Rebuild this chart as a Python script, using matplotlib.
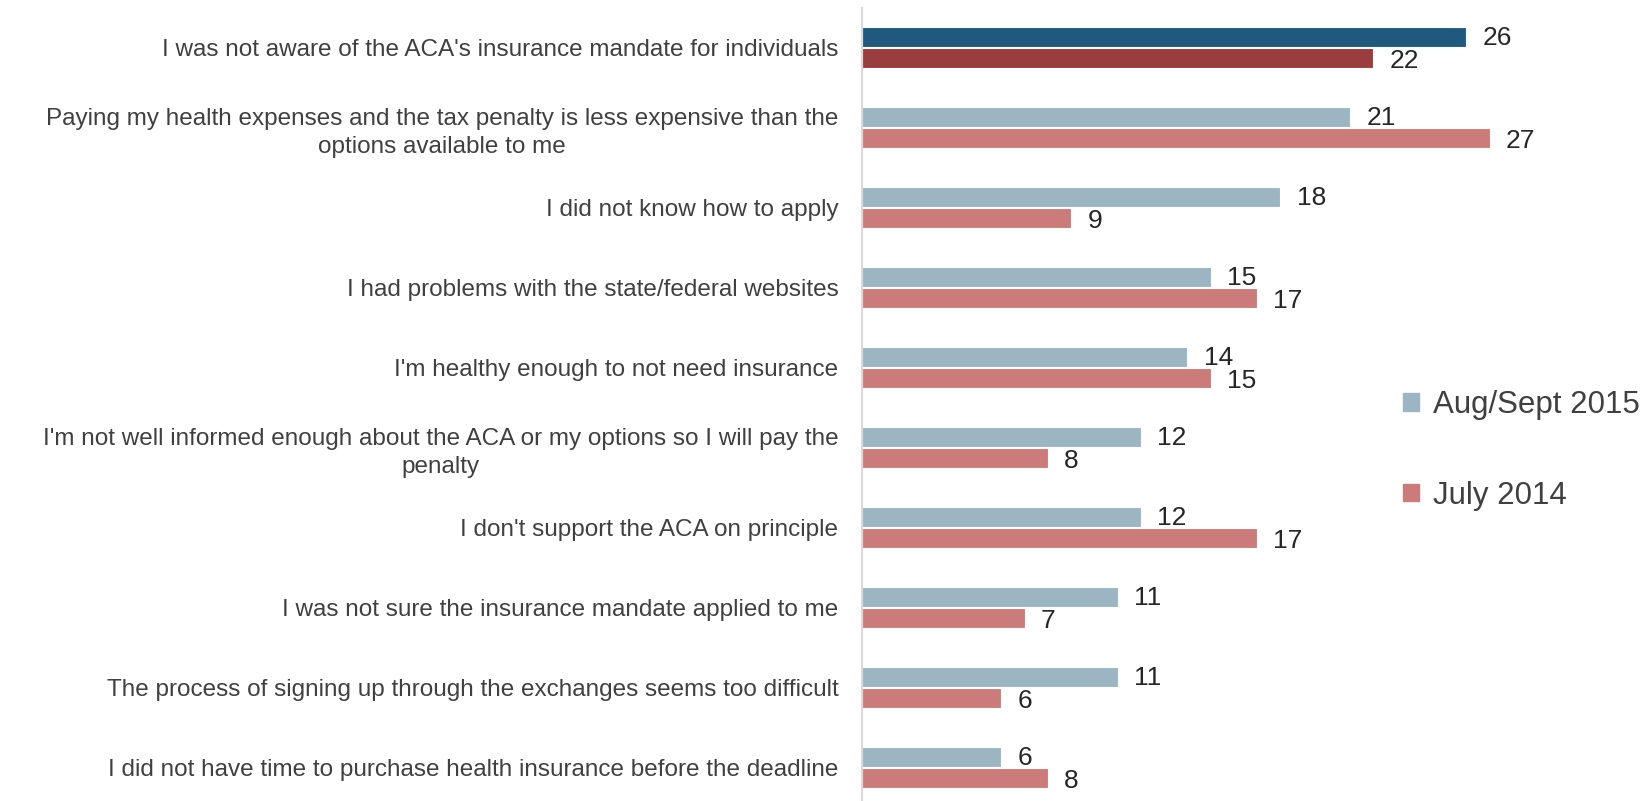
import matplotlib

matplotlib.use("Agg")
import matplotlib.pyplot as plt
import numpy as np
from matplotlib.patches import Patch

REASONS = [
    "I was not aware of the ACA's insurance mandate for individuals",
    "Paying my health expenses and the tax penalty is less expensive than the\noptions available to me",
    "I did not know how to apply",
    "I had problems with the state/federal websites",
    "I'm healthy enough to not need insurance",
    "I'm not well informed enough about the ACA or my options so I will pay the\npenalty",
    "I don't support the ACA on principle",
    "I was not sure the insurance mandate applied to me",
    "The process of signing up through the exchanges seems too difficult",
    "I did not have time to purchase health insurance before the deadline",
]
AUG_SEPT_2015 = [26, 21, 18, 15, 14, 12, 12, 11, 11, 6]
JULY_2014 = [22, 27, 9, 17, 15, 8, 17, 7, 6, 8]
SERIES_NAMES = ["Aug/Sept 2015", "July 2014"]

COLORS = {
    "blue": "#9BB5C3",
    "red": "#CC7B7B",
    "blue_hi": "#1F5A7E",
    "red_hi": "#9A3D3E",
    "text": "#404040",
    "value": "#262626",
    "axis": "#D9D9D9",
}
TEXT_FONT = ["Liberation Sans", "DejaVu Sans"]

fig = plt.figure(figsize=(16.45, 8.01), dpi=100)
ax = fig.add_axes([0.524, 0.0, 0.424, 0.99])

y = np.arange(len(REASONS))
h = 0.25
# the first reason is highlighted with darker shades
blue = [COLORS["blue_hi"]] + [COLORS["blue"]] * (len(REASONS) - 1)
red = [COLORS["red_hi"]] + [COLORS["red"]] * (len(REASONS) - 1)
ax.barh(y - h / 2 - 0.006, AUG_SEPT_2015, height=h, color=blue, edgecolor="white", linewidth=0.8)
ax.barh(y + h / 2 + 0.006, JULY_2014, height=h, color=red, edgecolor="white", linewidth=0.8)

for i, (a, b) in enumerate(zip(AUG_SEPT_2015, JULY_2014)):
    ax.text(a + 0.7, i - h / 2 + 0.01, str(a), va="center", ha="left",
            fontsize=19, color=COLORS["value"], family=TEXT_FONT)
    ax.text(b + 0.7, i + h / 2 + 0.05, str(b), va="center", ha="left",
            fontsize=19, color=COLORS["value"], family=TEXT_FONT)

ax.set_xlim(0, 30)
ax.set_ylim(len(REASONS) - 0.58, -0.49)
ax.set_yticks(y, labels=REASONS)
ax.tick_params(axis="y", length=0, pad=17, labelsize=17.5, labelcolor=COLORS["text"])
for lab in ax.get_yticklabels():
    lab.set_family(TEXT_FONT)
    lab.set_multialignment("center")
    lab.set_linespacing(1.35)
ax.set_xticks([])
for side in ["top", "right", "bottom"]:
    ax.spines[side].set_visible(False)
ax.spines["left"].set_color(COLORS["axis"])
ax.spines["left"].set_linewidth(1.5)

handles = [Patch(color=COLORS["blue"]), Patch(color=COLORS["red"])]
fig.legend(handles, SERIES_NAMES, loc="center left", bbox_to_anchor=(0.836, 0.438),
           frameon=False, handlelength=0.5, handleheight=0.5, handletextpad=0.45,
           labelspacing=1.95, prop={"family": TEXT_FONT, "size": 22.5},
           labelcolor=COLORS["text"])

fig.savefig("out.png", dpi=100, facecolor="white")
